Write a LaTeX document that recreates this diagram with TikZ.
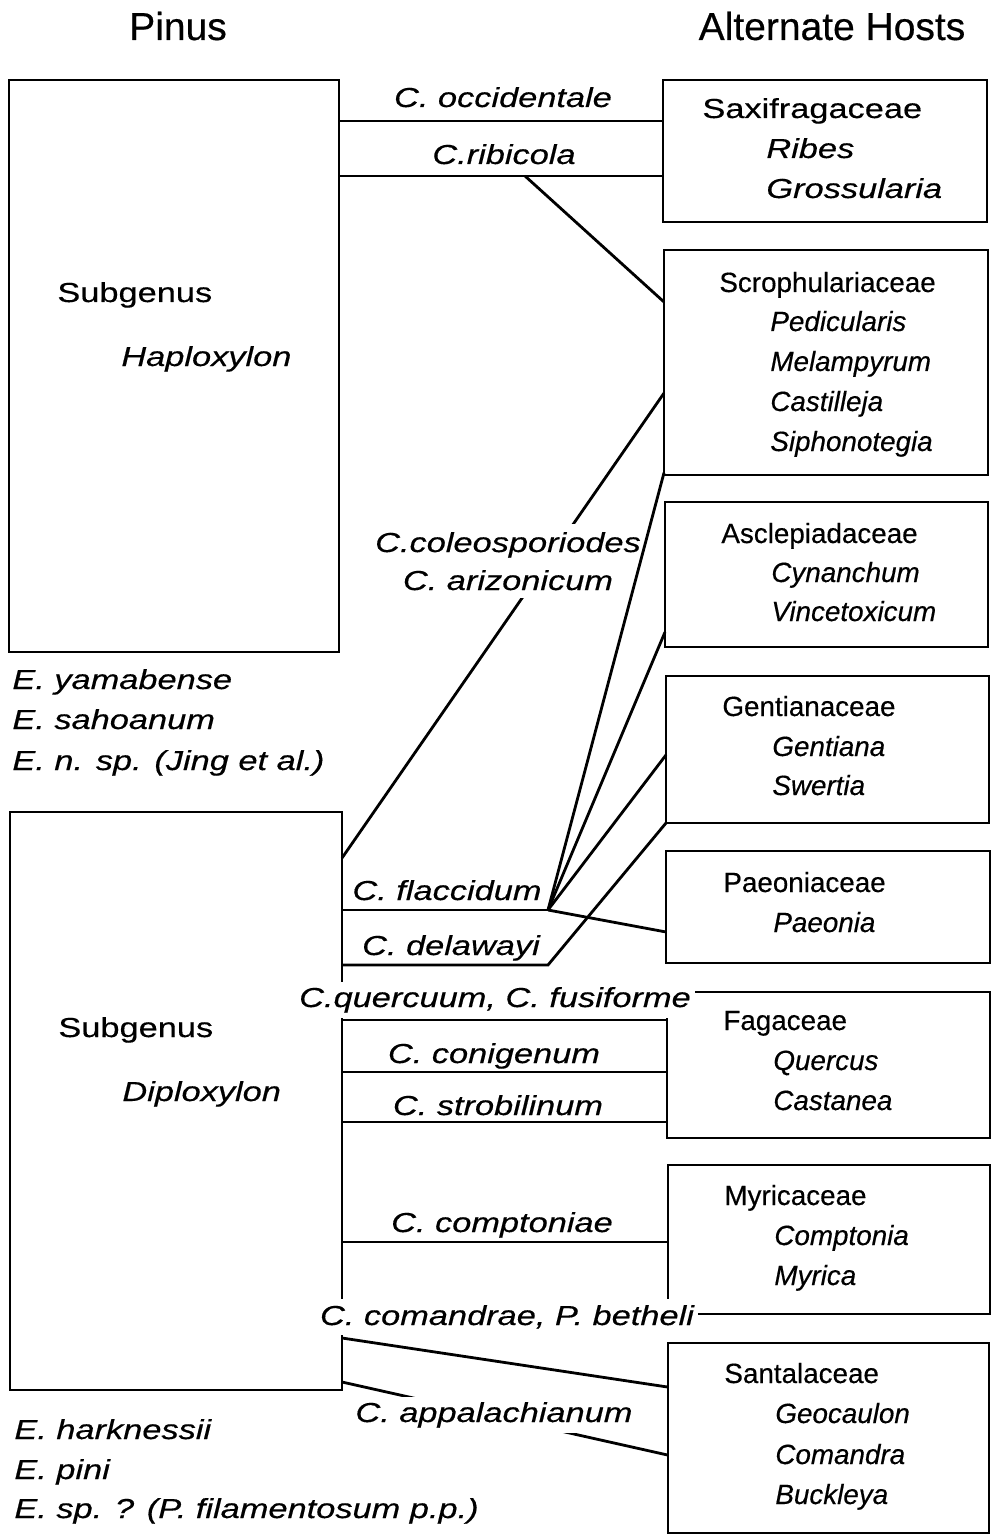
\documentclass[tikz,border=0pt]{standalone}
\usepackage{fontspec}
\setmainfont{Liberation Sans}[FakeBold=0.4]
\newfontfamily\widefont{Liberation Sans}[FakeStretch=1.25,FakeBold=0.4]
\usetikzlibrary{calc}
\begin{document}
\begin{tikzpicture}[x=0.5pt,y=-0.5pt,
  box/.style={draw, line width=1.4pt, inner sep=0pt, outer sep=0pt},
  conn/.style={line width=1.4pt},
  hdr/.style={font=\fontsize{19.5}{22}\selectfont, inner sep=0pt, anchor=base},
  wup/.style={font=\widefont\fontsize{13.75}{16}\selectfont, inner sep=0pt, anchor=base west},
  wit/.style={font=\widefont\itshape\fontsize{13.75}{16}\selectfont, inner sep=0pt, anchor=base west},
  nup/.style={font=\fontsize{13.9}{16}\selectfont, inner sep=0pt, anchor=base west},
  nit/.style={font=\itshape\fontsize{13.9}{16}\selectfont, inner sep=0pt, anchor=base west},
  clab/.style={font=\widefont\itshape\fontsize{13.75}{16}\selectfont, inner sep=0pt, anchor=base},
  cfill/.style={clab, fill=white, inner xsep=2pt, inner ysep=2.5pt},
]
\useasboundingbox (0,0) rectangle (992,1535);

% headers
\node[hdr] (hpin) at (178,40) {Pinus};
\node[hdr] (halt) at (832,40) {Alternate Hosts};

% pine boxes
\node[box, minimum width=165pt, minimum height=286pt] (hap) at (174,366) {};
\node[box, minimum width=166pt, minimum height=289pt] (dip) at (176,1101) {};

% host boxes
\node[box, minimum width=162pt,   minimum height=71pt]    (saxi) at (825,151) {};
\node[box, minimum width=162pt,   minimum height=112.5pt] (scro) at (826,362.5) {};
\node[box, minimum width=161.5pt, minimum height=72.5pt]  (ascl) at (826.5,574.5) {};
\node[box, minimum width=161.5pt, minimum height=73.5pt]  (gent) at (827.5,749.5) {};
\node[box, minimum width=162pt,   minimum height=56pt]    (paeo) at (828,907) {};
\node[box, minimum width=161.5pt, minimum height=73pt]    (faga) at (828.5,1065) {};
\node[box, minimum width=161pt,   minimum height=74.5pt]  (myri) at (829,1239.5) {};
\node[box, minimum width=160.5pt, minimum height=95pt]    (sant) at (828.5,1438) {};

% junction coordinates
\coordinate (oc) at (500,121);
\coordinate (rb) at (525,176);
\coordinate (co) at (342,858);
\coordinate (fl) at (548,910);
\coordinate (dl) at (548,965);
\coordinate (q1) at (500,1020);
\coordinate (q2) at (500,1072);
\coordinate (q3) at (500,1122);
\coordinate (cp) at (500,1242);
\coordinate (cm) at (342,1338);
\coordinate (ap) at (342,1382);

% connectors
\draw[conn] (hap.east |- oc) -- (saxi.west |- oc);
\draw[conn] (hap.east |- rb) -- (saxi.west |- rb);
\draw[conn] (rb) -- ($(scro.north west)!0.231!(scro.south west)$);
\draw[conn] (dip.east |- co) -- ($(scro.north west)!0.636!(scro.south west)$);
\draw[conn] (dip.east |- fl) -- (fl);
\draw[conn] (dip.east |- dl) -- (dl) -- (gent.south west);
\draw[conn] (fl) -- ($(paeo.north west)!0.723!(paeo.south west)$);
\draw[conn] (dip.east |- q1) -- (faga.west |- q1);
\draw[conn] (dip.east |- q2) -- (faga.west |- q2);
\draw[conn] (dip.east |- q3) -- (faga.west |- q3);
\draw[conn] (dip.east |- cp) -- (myri.west |- cp);
\draw[conn] (dip.east |- cm) -- ($(sant.north west)!0.232!(sant.south west)$);
\draw[conn] (dip.east |- ap) -- ($(sant.north west)!0.590!(sant.south west)$);

% connector labels
\node[clab] (locc) at (503,107) {C. occidentale};
\node[clab] (lrib) at (504,164) {C.ribicola};
\node[cfill, inner ysep=4pt] (lcol) at (508,552) {C.coleosporiodes};
\node[cfill, inner ysep=4pt] (lari) at (508,590) {C. arizonicum};
\node[clab] (lfla) at (447,900) {C. flaccidum};
\node[clab] (ldel) at (451,955) {C. delawayi};
\node[cfill] (lque) at (495,1007) {C.quercuum, C. fusiforme};
\node[clab] (lcon) at (494,1063) {C. conigenum};
\node[clab] (lstr) at (498,1115) {C. strobilinum};
\node[clab] (lcom) at (502,1232) {C. comptoniae};
\node[cfill, inner ysep=3pt] (lcma) at (507,1325) {C. comandrae, P. betheli};
\node[cfill] (lapp) at (494,1422) {C. appalachianum};

% fan of C. flaccidum (drawn over the label)
\draw[conn] (fl) -- ($(scro.north west)!0.99!(scro.south west)$);
\draw[conn] (fl) -- ($(ascl.north west)!0.897!(ascl.south west)$);
\draw[conn] (fl) -- ($(gent.north west)!0.537!(gent.south west)$);

% pine texts
\node[wup] (t1) at (57,302) {Subgenus};
\node[wit] (t2) at (121,366) {Haploxylon};
\node[wit] (t3) at (12,689) {E. yamabense};
\node[wit] (t4) at (12,729) {E. sahoanum};
\node[wit] (t5) at (12,770) {E. n. sp. (Jing et al.)};
\node[wup] (t6) at (58,1037) {Subgenus};
\node[wit] (t7) at (122,1101) {Diploxylon};
\node[wit] (t8) at (14,1439) {E. harknessii};
\node[wit] (t9) at (14,1479) {E. pini};
\node[wit] (t10) at (14,1518) {E. sp. ? (P. filamentosum p.p.)};

% host texts
\node[wup] (s1) at (702,118) {Saxifragaceae};
\node[wit] (s2) at (766,158) {Ribes};
\node[wit] (s3) at (766,198) {Grossularia};

\node[nup] (r1) at (719,292) {Scrophulariaceae};
\node[nit] (r2) at (770,331) {Pedicularis};
\node[nit] (r3) at (770,371) {Melampyrum};
\node[nit] (r4) at (770,411) {Castilleja};
\node[nit] (r5) at (770,451) {Siphonotegia};

\node[nup] (a1) at (721,543) {Asclepiadaceae};
\node[nit] (a2) at (771,582) {Cynanchum};
\node[nit] (a3) at (771,621) {Vincetoxicum};

\node[nup] (g1) at (722,716) {Gentianaceae};
\node[nit] (g2) at (772,756) {Gentiana};
\node[nit] (g3) at (772,795) {Swertia};

\node[nup] (p1) at (723,892) {Paeoniaceae};
\node[nit] (p2) at (773,932) {Paeonia};

\node[nup] (f1) at (723,1030) {Fagaceae};
\node[nit] (f2) at (773,1070) {Quercus};
\node[nit] (f3) at (773,1110) {Castanea};

\node[nup] (m1) at (724,1205) {Myricaceae};
\node[nit] (m2) at (774,1245) {Comptonia};
\node[nit] (m3) at (774,1285) {Myrica};

\node[nup] (n1) at (724,1383) {Santalaceae};
\node[nit] (n2) at (775,1423) {Geocaulon};
\node[nit] (n3) at (775,1464) {Comandra};
\node[nit] (n4) at (775,1504) {Buckleya};
\end{tikzpicture}
\end{document}
